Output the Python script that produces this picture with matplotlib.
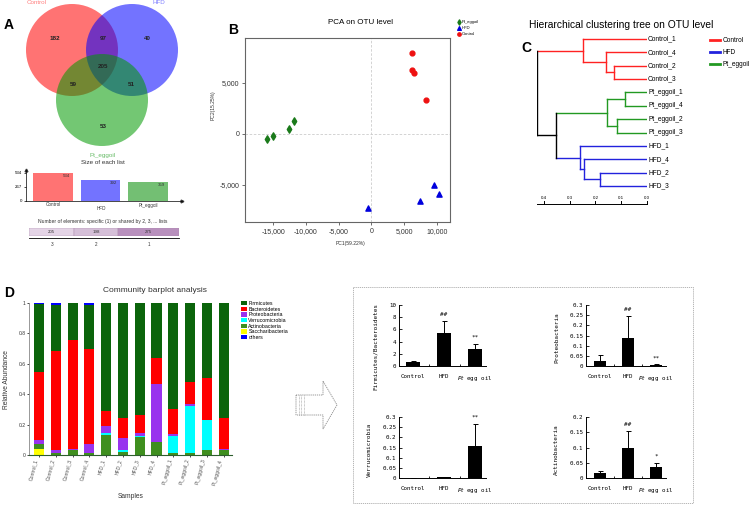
import numpy as np
import matplotlib
matplotlib.use("Agg")
import matplotlib.pyplot as plt
from matplotlib.patches import Circle, Rectangle, Polygon
from matplotlib.lines import Line2D
from matplotlib.ticker import FuncFormatter

plt.rcParams['font.family'] = ['Liberation Sans', 'DejaVu Sans']

# ---------------- data ----------------
groups = ['Control', 'HFD', 'Pt_eggoil']
venn_only = [182, 40, 53]          # Control, HFD, Pt_eggoil only
venn_pair = [97, 59, 51]           # C&H, C&P, H&P
venn_all = 205
list_sizes = [534, 392, 359]
shared_n = [205, 198, 275]
shared_lab = ['3', '2', '1']

pca_pt_x = [-15870, -15000, -12550, -11790]
pca_pt_y = [-490, -230, 460, 1250]
pca_hfd_x = [-560, 7450, 9590, 10260]
pca_hfd_y = [-7300, -6580, -5000, -5890]
pca_ctrl_x = [6170, 6170, 6480, 8320]
pca_ctrl_y = [7900, 6250, 5950, 3320]

tree_leaves = ['Control_1', 'Control_4', 'Control_2', 'Control_3',
               'Pt_eggoil_1', 'Pt_eggoil_4', 'Pt_eggoil_2', 'Pt_eggoil_3',
               'HFD_1', 'HFD_4', 'HFD_2', 'HFD_3']
# (child a, child b, height); new clusters numbered from 12
tree_merges = [(2, 3, 0.130), (1, 12, 0.160), (0, 13, 0.247),
               (4, 5, 0.084), (6, 7, 0.117), (15, 16, 0.156),
               (10, 11, 0.184), (9, 18, 0.243), (8, 19, 0.260),
               (17, 20, 0.355), (14, 21, 0.426)]

samples = ['Control_1', 'Control_2', 'Control_3', 'Control_4',
           'HFD_1', 'HFD_2', 'HFD_3', 'HFD_4',
           'Pt_eggoil_1', 'Pt_eggoil_2', 'Pt_eggoil_3', 'Pt_eggoil_4']
saccharibacteria = [0.037, 0, 0.003, 0, 0, 0, 0, 0, 0, 0, 0, 0]
actinobacteria = [0.033, 0.012, 0.032, 0.015, 0.13, 0.02, 0.12, 0.085, 0.015, 0.015, 0.03, 0.03]
verrucomicrobia = [0, 0, 0, 0, 0.015, 0.01, 0.005, 0, 0.11, 0.305, 0.198, 0.005]
proteobacteria = [0.026, 0.018, 0.003, 0.055, 0.045, 0.085, 0.018, 0.385, 0.01, 0.015, 0.002, 0.005]
bacteroidetes = [0.45, 0.652, 0.716, 0.63, 0.10, 0.13, 0.117, 0.165, 0.17, 0.145, 0.275, 0.205]
firmicutes = [0.445, 0.308, 0.244, 0.29, 0.71, 0.755, 0.74, 0.365, 0.695, 0.52, 0.495, 0.755]
others = [0.009, 0.01, 0.002, 0.01, 0, 0, 0, 0, 0, 0, 0, 0]

e_groups = ['Control', 'HFD', r'$\it{Pt}$ egg oil']
fb_mean = [0.6, 5.4, 2.8]
fb_err = [0.3, 1.9, 0.8]
fb_sig = ['', '##', '**']
prot_mean = [0.025, 0.14, 0.005]
prot_err = [0.03, 0.107, 0.003]
prot_sig = ['', '##', '**']
verr_mean = [0.0005, 0.004, 0.155]
verr_err = [0.0005, 0.003, 0.11]
verr_sig = ['', '', '**']
act_mean = [0.015, 0.1, 0.035]
act_err = [0.008, 0.055, 0.015]
act_sig = ['', '##', '*']

# ---------------- figure ----------------
W, H = 754, 505
fig = plt.figure(figsize=(W / 100, H / 100), dpi=100)
ov = fig.add_axes([0, 0, 1, 1])
ov.set_xlim(0, W)
ov.set_ylim(H, 0)
ov.axis('off')


def pax(x0, y0, x1, y1):
    return fig.add_axes([x0 / W, 1 - y1 / H, (x1 - x0) / W, (y1 - y0) / H])


letter_kw = dict(fontsize=10, fontweight='bold', family=['Liberation Sans Narrow', 'Liberation Sans', 'DejaVu Sans'],
                 va='center', ha='left')
ov.text(4, 25, 'A', **letter_kw)
ov.text(228, 30, 'B', **letter_kw)
ov.text(521, 48, 'C', **letter_kw)
ov.text(4, 293, 'D', **letter_kw)

# ---- A: venn ----
venn_cols = [(1, 0, 0), (0, 0, 1), (0, 0.6, 0)]
for (cx, cy), col in zip([(72, 50), (132, 50), (102, 100)], venn_cols):
    ov.add_patch(Circle((cx, cy), 46, fc=col, alpha=0.55, ec='none'))
num_kw = dict(fontsize=4.5, fontweight='bold', ha='center', va='center', color='#222222')
ov.text(55, 38, str(venn_only[0]), **num_kw)
ov.text(147, 38, str(venn_only[1]), **num_kw)
ov.text(103, 127, str(venn_only[2]), **num_kw)
ov.text(103, 38, str(venn_pair[0]), **num_kw)
ov.text(73, 84, str(venn_pair[1]), **num_kw)
ov.text(131, 84, str(venn_pair[2]), **num_kw)
ov.text(103, 67, str(venn_all), **num_kw)
ov.text(37, 3, groups[0], fontsize=4.5, color='#ff8080', ha='center', va='center')
ov.text(159, 3, groups[1], fontsize=4.5, color='#8080ff', ha='center', va='center')
ov.text(103, 155, groups[2], fontsize=4.5, color='#66bb66', ha='center', va='center')
ov.text(103, 163, 'Size of each list', fontsize=4.5, ha='center', va='center', color='#333333')

axs = pax(26, 170, 182, 201)
xs = np.arange(3)
axs.bar(xs, list_sizes, width=0.84, color=[(1, .45, .45), (.45, .45, 1), (.45, .75, .45)])
for x, v in zip(xs, list_sizes):
    axs.text(x + 0.36, v - 20, str(v), fontsize=3.2, ha='right', va='top', color='#333333')
axs.set_xlim(-0.57, 2.72)
axs.set_ylim(0, 591)
axs.set_yticks([0, 267, 534])
axs.tick_params(axis='y', labelsize=3.2, length=1.5, width=0.5, pad=1)
axs.set_xticks([])
for s in ['top', 'right']:
    axs.spines[s].set_visible(False)
for s in ['left', 'bottom']:
    axs.spines[s].set_linewidth(0.5)
axs.plot(1, 0, '>', ms=2, color='#333333', transform=axs.transAxes, clip_on=False)
axs.plot(0, 1, '^', ms=2, color='#333333', transform=axs.transAxes, clip_on=False)
ov.text(53, 205, groups[0], fontsize=3.3, ha='center', va='center', color='#333333')
ov.text(101, 208, groups[1], fontsize=3.3, ha='center', va='center', color='#333333')
ov.text(148, 205, groups[2], fontsize=3.3, ha='center', va='center', color='#333333')
ov.text(103, 221, 'Number of elements: specific (1) or shared by 2, 3, ... lists',
        fontsize=3.6, ha='center', va='center', color='#333333')

axb = pax(29, 228, 179, 236)
left = np.concatenate([[0], np.cumsum(shared_n)[:-1]])
axb.barh(0, shared_n, left=left, height=1, color=['#e4d4e6', '#d5bfd8', '#b890bd'],
         edgecolor='#aa88aa', linewidth=0.3)
for l, n in zip(left, shared_n):
    axb.text(l + n / 2, 0, str(n), fontsize=3.2, ha='center', va='center', color='#333333')
axb.set_xlim(0, sum(shared_n))
axb.set_ylim(-0.5, 0.5)
axb.set_yticks([])
axb.set_xticks(left + np.array(shared_n) / 2)
axb.set_xticklabels(shared_lab)
axb.tick_params(axis='x', labelsize=3.3, length=0, pad=3, labelcolor='#333333')
for s in ['top', 'right', 'left']:
    axb.spines[s].set_visible(False)
axb.spines['bottom'].set_position(('outward', 1.5))
axb.spines['bottom'].set_linewidth(0.6)

# ---- B: PCA ----
axp = pax(245, 38, 450, 222)
axp.axhline(0, color='#cccccc', lw=0.6, ls=(0, (3, 2)), zorder=0)
axp.axvline(0, color='#cccccc', lw=0.6, ls=(0, (3, 2)), zorder=0)
axp.scatter(pca_pt_x, pca_pt_y, marker='d', s=14, color='#1a7a1a', label='Pt_eggoil', zorder=3)
axp.scatter(pca_hfd_x, pca_hfd_y, marker='^', s=14, color='#0000dd', label='HFD', zorder=3)
axp.scatter(pca_ctrl_x, pca_ctrl_y, marker='o', s=12, color='#ee1111', label='Control', zorder=3)
axp.set_xlim(-19300, 12000)
axp.set_ylim(-8650, 9400)
axp.set_xticks([-15000, -10000, -5000, 0, 5000, 10000])
axp.set_yticks([-5000, 0, 5000])
fmt = FuncFormatter(lambda v, p: f'{int(v):,}')
axp.xaxis.set_major_formatter(fmt)
axp.yaxis.set_major_formatter(fmt)
axp.tick_params(labelsize=5, length=2, width=0.5, pad=2, colors='#333333')
for s in axp.spines.values():
    s.set_color('#666666')
    s.set_linewidth(0.8)
ov.text(361, 22, 'PCA on OTU level', fontsize=5.8, ha='center', va='center')
ov.text(350, 243, 'PC1(59.22%)', fontsize=3.6, ha='center', va='center', color='#333333')
ov.text(213, 105, 'PC2(15.25%)', fontsize=3.6, ha='center', va='center', rotation=90, color='#333333')
fig.legend(*axp.get_legend_handles_labels(), loc='upper left', bbox_to_anchor=(458 / W, 1 - 20 / H),
           fontsize=3, frameon=False, handlelength=0.6, handletextpad=0.3, labelspacing=0.45,
           borderaxespad=0, borderpad=0, markerscale=0.7)

# ---- C: tree ----
axt = pax(537, 30, 647, 212)
grp_col = {'Control': '#ff2222', 'HFD': '#2222dd', 'Pt_eggoil': '#229922'}
leaf_grp = [n.rsplit('_', 1)[0] for n in tree_leaves]
node_y = {i: float(i) for i in range(len(tree_leaves))}
node_h = {i: 0.0 for i in range(len(tree_leaves))}
node_g = {i: leaf_grp[i] for i in range(len(tree_leaves))}
for k, (a, b, h) in enumerate(tree_merges):
    nid = len(tree_leaves) + k
    g = node_g[a] if node_g[a] == node_g[b] else None
    node_y[nid] = (node_y[a] + node_y[b]) / 2
    node_h[nid] = h
    node_g[nid] = g
    for c in (a, b):
        col = grp_col[node_g[c]] if node_g[c] else 'black'
        axt.plot([h, node_h[c]], [node_y[c], node_y[c]], color=col, lw=1)
    col = grp_col[g] if g else 'black'
    axt.plot([h, h], [node_y[a], node_y[b]], color=col, lw=1)
for i, name in enumerate(tree_leaves):
    axt.text(-0.004, i, name, fontsize=4.8, ha='left', va='center', clip_on=False)
axt.set_xlim(0.427, 0)
axt.set_ylim(12.94, -0.67)
axt.axis('off')
sy = 12.34
axt.plot([0.426, 0], [sy, sy], color='black', lw=0.7, clip_on=False)
for t in [0.4, 0.3, 0.2, 0.1, 0.0]:
    axt.plot([t, t], [sy, sy - 0.2], color='black', lw=0.7, clip_on=False)
    axt.text(t, sy - 0.32, f'{t:.1f}', fontsize=3.2, ha='center', va='bottom', clip_on=False)
ov.text(621, 25, 'Hierarchical clustering tree on OTU level', fontsize=7.4, ha='center', va='center')
fig.legend([Line2D([], [], color=grp_col[g], lw=2) for g in groups], groups,
           loc='upper left', bbox_to_anchor=(710 / W, 1 - 37 / H), fontsize=4.7, frameon=False,
           handlelength=1.5, handletextpad=0.4, labelspacing=0.75, borderaxespad=0, borderpad=0)

# ---- D: community barplot ----
axd = pax(29, 303, 232, 455)
layers = [('Saccharibacteria', saccharibacteria, '#ffff00'),
          ('Actinobacteria', actinobacteria, '#3f8f1f'),
          ('Verrucomicrobia', verrucomicrobia, '#00ffff'),
          ('Proteobacteria', proteobacteria, '#9933ee'),
          ('Bacteroidetes', bacteroidetes, '#ff0000'),
          ('Firmicutes', firmicutes, '#0b640b'),
          ('others', others, '#0000ff')]
xd = np.arange(len(samples))
bottom = np.zeros(len(samples))
bars = {}
for name, vals, col in layers:
    bars[name] = axd.bar(xd, vals, bottom=bottom, width=0.6, color=col, label=name)
    bottom += np.array(vals)
axd.set_xlim(-0.6, 11.5)
axd.set_ylim(0, 1)
axd.set_yticks([0, 0.2, 0.4, 0.6, 0.8, 1])
axd.yaxis.set_major_formatter(FuncFormatter(lambda v, p: f'{v:g}'))
axd.set_xticks(xd)
axd.set_xticklabels(samples, rotation=75, ha='right', va='top')
axd.tick_params(axis='y', labelsize=3.6, length=1.5, width=0.5, pad=1, labelcolor='#333333')
axd.tick_params(axis='x', labelsize=3.6, length=1.5, width=0.5, pad=1, labelcolor='#555555')
for s in ['top', 'right']:
    axd.spines[s].set_visible(False)
axd.spines['left'].set_color('#888888')
axd.spines['left'].set_linewidth(0.6)
axd.spines['bottom'].set_color('#2e5e2e')
axd.spines['bottom'].set_linewidth(0.8)
ov.text(155, 291, 'Community barplot analysis', fontsize=6, ha='center', va='center', color='#333333')
ov.text(7, 380, 'Relative Abundance', fontsize=4.8, rotation=90, ha='center', va='center', color='#333333')
ov.text(131, 496, 'Samples', fontsize=4.8, ha='center', va='center', color='#333333')
leg_order = ['Firmicutes', 'Bacteroidetes', 'Proteobacteria', 'Verrucomicrobia',
             'Actinobacteria', 'Saccharibacteria', 'others']
fig.legend([bars[n] for n in leg_order], leg_order, loc='upper left',
           bbox_to_anchor=(241 / W, 1 - 301 / H), fontsize=3.8, frameon=False,
           handlelength=1.1, handleheight=0.9, handletextpad=0.3, labelspacing=0.12,
           borderaxespad=0, borderpad=0)

# ---- arrow and dashed box ----
ov.add_patch(Polygon([(296, 395), (323, 395), (323, 381), (337, 405), (323, 429), (323, 415), (296, 415)],
                     closed=True, fill=False, ec='#888888', lw=0.6, ls=(0, (1.5, 1))))
for x in (298.5, 301, 303.5):
    ov.plot([x, x], [395, 415], color='#999999', lw=0.5, ls=(0, (1, 1)))
ov.add_patch(Rectangle((353, 287), 340, 216, fill=False, ec='#aaaaaa', lw=0.6, ls=(0, (1.5, 1))))

# ---- E: group bar charts ----
mono = 'DejaVu Sans Mono'


def small_bars(box, xlim, means, errs, sigs, ymax, yticks, ylabel, lab_xy):
    ax = pax(*box)
    x = np.arange(3)
    ax.bar(x, means, width=0.43, color='black',
           yerr=[np.zeros(3), errs], error_kw=dict(capsize=1.8, elinewidth=0.7, capthick=0.7, ecolor='black'))
    for xi, m, e, s in zip(x, means, errs, sigs):
        if s:
            ax.annotate(s, (xi, m + e), xytext=(0, 3), textcoords='offset points',
                        ha='center', va='bottom', fontsize=4.3, family=mono)
    ax.set_xlim(*xlim)
    ax.set_ylim(0, ymax)
    ax.set_yticks(yticks)
    ax.yaxis.set_major_formatter(FuncFormatter(lambda v, p: f'{v:g}'))
    ax.set_xticks(x)
    ax.set_xticklabels(e_groups)
    ax.set_xticks([0.5, 1.5], minor=True)
    for lab in ax.get_xticklabels() + ax.get_yticklabels():
        lab.set_family(mono)
    ax.tick_params(axis='x', which='major', length=0, pad=6, labelsize=4.2)
    ax.tick_params(axis='x', which='minor', length=1.5, width=0.6, direction='in')
    ax.tick_params(axis='y', length=2, width=0.6, direction='in', pad=2, labelsize=4.2)
    for s in ['top', 'right']:
        ax.spines[s].set_visible(False)
    for s in ['left', 'bottom']:
        ax.spines[s].set_linewidth(0.7)
    ov.text(lab_xy[0], lab_xy[1], ylabel, fontsize=4.3, family=mono, rotation=90, ha='center', va='center')
    return ax


small_bars((399, 305, 486, 366), (-0.45, 2.35), fb_mean, fb_err, fb_sig, 10, [0, 2, 4, 6, 8, 10],
           'Firmicutes/Bacteroidetes', (375, 346))
small_bars((586, 305, 666, 366), (-0.5, 2.36), prot_mean, prot_err, prot_sig, 0.3,
           [0, 0.05, 0.1, 0.15, 0.2, 0.25, 0.3], 'Proteobacteria', (557, 338))
small_bars((399, 417, 486, 478), (-0.45, 2.35), verr_mean, verr_err, verr_sig, 0.3,
           [0, 0.05, 0.1, 0.15, 0.2, 0.25, 0.3], 'Verrucomicrobia', (369, 450))
small_bars((586, 417, 666, 478), (-0.5, 2.36), act_mean, act_err, act_sig, 0.2,
           [0, 0.05, 0.1, 0.15, 0.2], 'Actinobacteria', (556, 450))

fig.savefig('out.png', dpi=100)
